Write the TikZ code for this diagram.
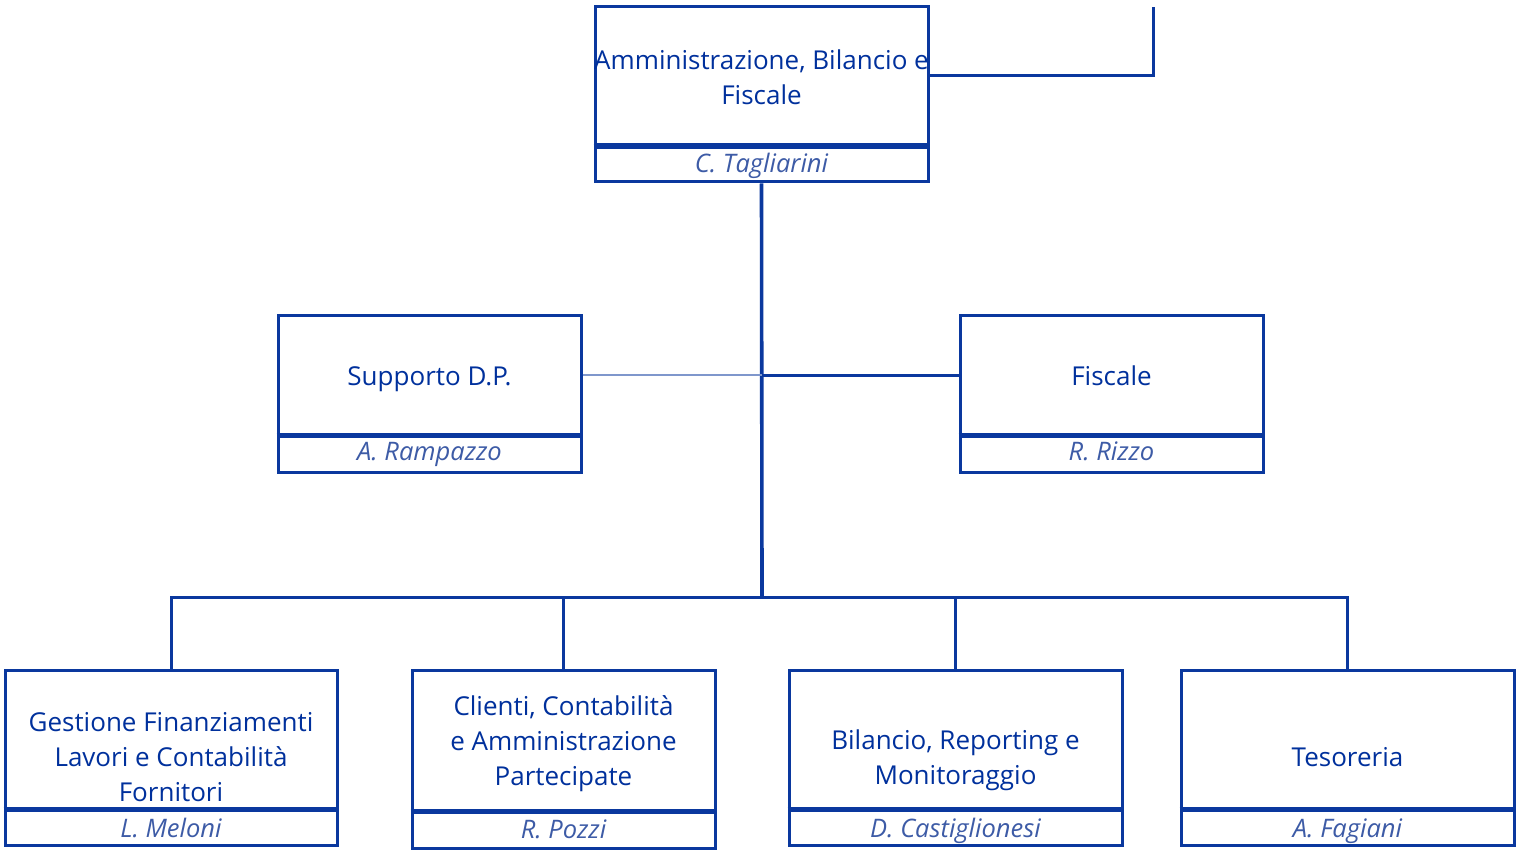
\documentclass[tikz,border=0pt]{standalone}
\usepackage{fontspec}
\setmainfont{Open Sans}
\definecolor{dblue}{HTML}{0A389E}
\definecolor{tblue}{HTML}{00309C}
\definecolor{nblue}{HTML}{3D5BA6}
\definecolor{lblue}{HTML}{7F97CC}
\tikzset{
  box/.style={draw=dblue, line width=3pt, rectangle, inner sep=0pt},
  divider/.style={draw=dblue, line width=4.5pt},
  ttl/.style={text=tblue, align=center, inner sep=0pt, font=\fontsize{26}{35}\selectfont},
  nm/.style={text=nblue, inner sep=0pt, text height=18pt, text depth=6pt, font=\fontsize{25.5}{30}\selectfont\itshape},
  conn/.style={draw=dblue, line width=3pt},
  trunk/.style={draw=dblue, line width=3.6pt},
  lconn/.style={draw=lblue, line width=2pt},
}
\begin{document}
\begin{tikzpicture}[x=1pt,y=-1pt]
\useasboundingbox (0,0) rectangle (1518,850);
% top
\node[box, minimum width=333pt, minimum height=138pt] (top) at (761.5,76) {};
\node[box, minimum width=333pt, minimum height=37pt] (topn) at (761.5,163.5) {};
\draw[divider] (top.south west) -- (top.south east);
\node[ttl] (topt) at (761.5,77) {Amministrazione, Bilancio e\\Fiscale};
\node[nm] (topnt) at (761.5,167) {C. Tagliarini};
% middle
\node[box, minimum width=303pt, minimum height=118pt] (sup) at (429.5,375) {};
\node[box, minimum width=303pt, minimum height=38pt] (supn) at (429.5,453) {};
\draw[divider] (sup.south west) -- (sup.south east);
\node[ttl] (supt) at (429.5,379) {Supporto D.P.};
\node[nm] (supnt) at (429.5,454) {A. Rampazzo};
\node[box, minimum width=303pt, minimum height=118pt] (fis) at (1111.5,375) {};
\node[box, minimum width=303pt, minimum height=38pt] (fisn) at (1111.5,453) {};
\draw[divider] (fis.south west) -- (fis.south east);
\node[ttl] (fist) at (1111.5,376) {Fiscale};
\node[nm] (fisnt) at (1111.5,454) {R. Rizzo};
% bottom
\node[box, minimum width=332pt, minimum height=138pt] (b1) at (171,739) {};
\node[box, minimum width=332pt, minimum height=37pt] (b1n) at (171,826.5) {};
\draw[divider] (b1.south west) -- (b1.south east);
\node[ttl] (b1t) at (171,757.5) {Gestione Finanziamenti\\Lavori e Contabilità\\Fornitori};
\node[nm] (b1nt) at (171,831) {L. Meloni};
\node[box, minimum width=303pt, minimum height=140pt] (b2) at (563.5,740) {};
\node[box, minimum width=303pt, minimum height=38pt] (b2n) at (563.5,829) {};
\draw[divider] (b2.south west) -- (b2.south east);
\node[ttl] (b2t) at (563.5,743.5) {Clienti, Contabilità\\e Amministrazione\\Partecipate};
\node[nm] (b2nt) at (563.5,832) {R. Pozzi};
\node[box, minimum width=333pt, minimum height=138pt] (b3) at (955.5,739) {};
\node[box, minimum width=333pt, minimum height=37pt] (b3n) at (955.5,826.5) {};
\draw[divider] (b3.south west) -- (b3.south east);
\node[ttl] (b3t) at (955.5,760.5) {Bilancio, Reporting e\\Monitoraggio};
\node[nm] (b3nt) at (955.5,831) {D. Castiglionesi};
\node[box, minimum width=333pt, minimum height=138pt] (b4) at (1347.5,739) {};
\node[box, minimum width=333pt, minimum height=37pt] (b4n) at (1347.5,826.5) {};
\draw[divider] (b4.south west) -- (b4.south east);
\node[ttl] (b4t) at (1347.5,757.5) {Tesoreria};
\node[nm] (b4nt) at (1347.5,831) {A. Fagiani};
% connectors
\coordinate (bus) at (762,597);
\coordinate (tr) at (1153,7);
\draw[conn] (top.east) -| (tr);
\draw[trunk] (topn.south) -- (bus);
\draw[conn] (b1.north) -- (b1.north |- bus) -| (b4.north);
\draw[conn] (b2.north) -- (b2.north |- bus);
\draw[conn] (b3.north) -- (b3.north |- bus);
\draw[lconn] (sup.east) -- (sup.east -| bus);
\draw[conn] (sup.east -| bus) -- (fis.west);
\end{tikzpicture}
\end{document}
